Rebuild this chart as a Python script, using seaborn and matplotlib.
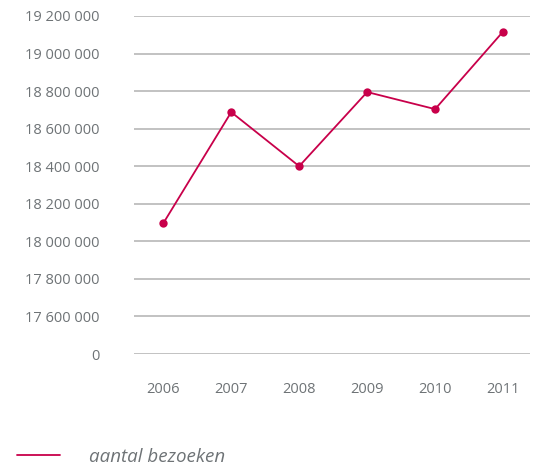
import matplotlib
matplotlib.use("Agg")
import matplotlib.pyplot as plt
import pandas as pd
import seaborn as sns

# Values
years = [2006, 2007, 2008, 2009, 2010, 2011]
visits = [18096000, 18688000, 18400000, 18795000, 18704000, 19117000]
series_label = "aantal bezoeken"

# Broken axis: the lowest gridline is labelled "0"
ytick_values = [17400000, 17600000, 17800000, 18000000, 18200000,
                18400000, 18600000, 18800000, 19000000, 19200000]
ytick_labels = ["0", "17 600 000", "17 800 000", "18 000 000", "18 200 000",
                "18 400 000", "18 600 000", "18 800 000", "19 000 000", "19 200 000"]

line_color = "#c8004a"
text_color = "#6e7376"
grid_color = "#bdbdbd"

sns.set_style("white")
plt.rcParams["font.family"] = ["Open Sans", "DejaVu Sans"]

df = pd.DataFrame({"year": years, "visits": visits})

fig = plt.figure(figsize=(5.34, 4.69), dpi=100)
ax = fig.add_axes([0.251, 0.2452, 0.742, 0.7207])

sns.lineplot(data=df, x="year", y="visits", ax=ax, color=line_color,
             linewidth=1.3, marker="o", markersize=6, markeredgewidth=0,
             legend=False, clip_on=False)

ax.set_ylim(ytick_values[0], ytick_values[-1])
ax.set_xlim(2005.57, 2011.4)
ax.set_yticks(ytick_values)
ax.set_yticklabels(ytick_labels)
ax.set_xticks(years)
ax.set_xticklabels([str(y) for y in years])

ax.grid(axis="y", color=grid_color, linewidth=1.3)
ax.set_axisbelow(True)
for side in ax.spines.values():
    side.set_visible(False)
ax.tick_params(axis="y", length=0, pad=25, labelsize=10.5, labelcolor=text_color)
ax.tick_params(axis="x", length=0, pad=20, labelsize=10.5, labelcolor=text_color)
ax.set_xlabel("")
ax.set_ylabel("")

handles = [plt.Line2D([], [], color=line_color, linewidth=1.3)]
leg = fig.legend(handles, [series_label], loc="center left",
                 bbox_to_anchor=(17 / 534, 12 / 469), frameon=False,
                 borderpad=0, borderaxespad=0,
                 handlelength=2.3, handletextpad=1.55,
                 prop={"style": "italic", "size": 13.5})
for t in leg.get_texts():
    t.set_color(text_color)

fig.savefig("out.png", dpi=100)
